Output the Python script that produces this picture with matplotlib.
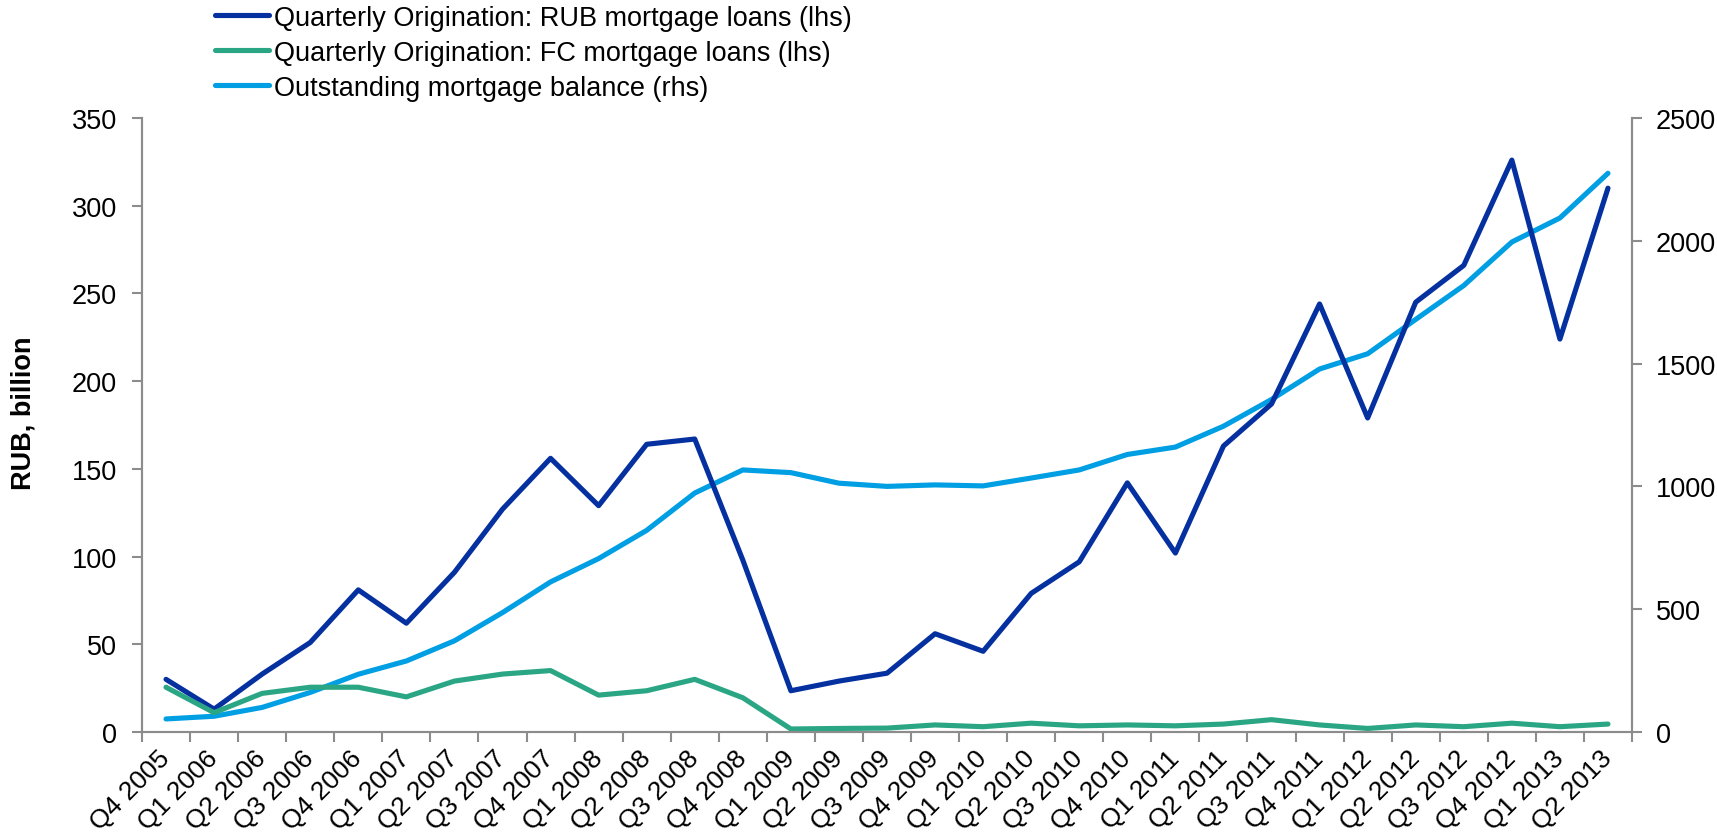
import matplotlib.pyplot as plt
import numpy as np

plt.rcParams['font.family'] = ['Liberation Sans', 'DejaVu Sans']

quarters = ["Q4 2005",
            "Q1 2006", "Q2 2006", "Q3 2006", "Q4 2006",
            "Q1 2007", "Q2 2007", "Q3 2007", "Q4 2007",
            "Q1 2008", "Q2 2008", "Q3 2008", "Q4 2008",
            "Q1 2009", "Q2 2009", "Q3 2009", "Q4 2009",
            "Q1 2010", "Q2 2010", "Q3 2010", "Q4 2010",
            "Q1 2011", "Q2 2011", "Q3 2011", "Q4 2011",
            "Q1 2012", "Q2 2012", "Q3 2012", "Q4 2012",
            "Q1 2013", "Q2 2013"]
rub_orig = [30, 13, 33, 51, 81, 62, 91, 127, 156, 129, 164, 167, 98, 23.5, 29,
            33.5, 56, 46, 79, 97, 142, 102, 163, 187, 244, 179, 245, 266, 326, 224, 310]
fc_orig = [25.5, 11, 22, 25.5, 25.5, 20, 29, 33, 35, 21, 23.5, 30, 19.5, 1.7, 2,
           2.2, 4, 3, 5, 3.5, 4, 3.5, 4.5, 7, 4, 2, 4, 3, 5, 3, 4.5]
balance = [53, 64, 100, 161, 235, 289, 371, 486, 611, 706, 821, 973, 1067, 1056, 1013,
           1000, 1006, 1002, 1034, 1067, 1130, 1160, 1245, 1354, 1478, 1540, 1680, 1818, 1995, 2093, 2275]

c_rub = "#0530A0"
c_fc = "#2BA684"
c_bal = "#009FE3"
grey = "#8C8C8C"

fig = plt.figure(figsize=(17.17, 8.37), dpi=100)
ax = fig.add_axes([0.0827, 0.1243, 0.8678, 0.7335])
ax2 = ax.twinx()

x = np.arange(len(quarters))
line_kw = dict(linewidth=3.7, solid_capstyle='round', solid_joinstyle='round')
l1, = ax.plot(x, rub_orig, color=c_rub, label='Quarterly Origination: RUB mortgage loans (lhs)', **line_kw)
l2, = ax.plot(x, fc_orig, color=c_fc, label='Quarterly Origination: FC mortgage loans (lhs)', **line_kw)
l3, = ax2.plot(x, balance, color=c_bal, label='Outstanding mortgage balance (rhs)', **line_kw)
ax.set_zorder(ax2.get_zorder() + 1)
ax.patch.set_visible(False)

ax.set_xlim(-0.5, len(quarters) - 0.5)
ax.set_ylim(0, 350)
ax2.set_ylim(0, 2500)
ax.set_yticks(np.arange(0, 351, 50))
ax2.set_yticks(np.arange(0, 2501, 500))

# ticks between categories, labels on the categories
ax.set_xticks(np.arange(-0.5, len(quarters), 1.0))
ax.set_xticklabels([])
ax.set_xticks(x, minor=True)
ax.set_xticklabels(quarters, minor=True, rotation=45, ha='right', va='center',
                   rotation_mode='anchor', fontsize=19)
ax.tick_params(axis='x', which='minor', length=0, pad=16)
ax.tick_params(axis='x', which='major', direction='out', length=7, width=1.5, color=grey)
ax.tick_params(axis='y', direction='out', length=7, width=1.5, color=grey,
               labelsize=19.5, pad=11)
ax2.tick_params(axis='y', direction='out', length=7, width=1.5, color=grey,
                labelsize=19.5, pad=10)

for a in (ax, ax2):
    a.spines['top'].set_visible(False)
    for s in ('left', 'right', 'bottom'):
        a.spines[s].set_color(grey)
        a.spines[s].set_linewidth(1.5)

ax.set_ylabel('RUB, billion', fontsize=19.5, fontweight='bold')
ax.yaxis.set_label_coords(-0.071, 0.52)

fig.legend(handles=[l1, l2, l3], loc='upper left', bbox_to_anchor=(0.125, 0.993),
           frameon=False, fontsize=19.5, handlelength=2.0, handletextpad=0.2,
           labelspacing=0.33, borderaxespad=0, borderpad=0)

fig.savefig('out.png', dpi=100)
